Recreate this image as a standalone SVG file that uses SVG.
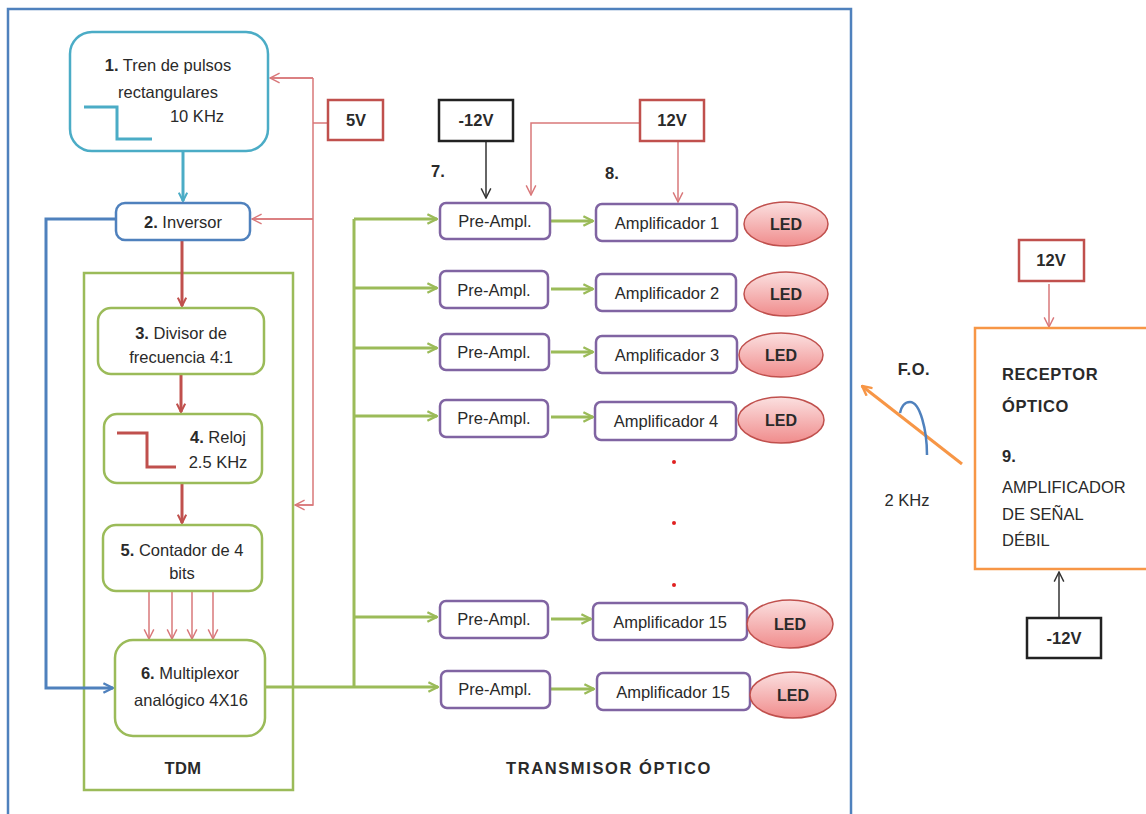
<svg xmlns="http://www.w3.org/2000/svg" width="1146" height="814" viewBox="0 0 1146 814">
<defs>
<style>
text{font-family:"Liberation Sans",Arial,sans-serif;font-size:16.5px;fill:#2a2a2a;text-anchor:middle}
.b{font-weight:bold}
.l{text-anchor:start}
.s{font-size:16px}
.pa{fill:#fff;stroke:#8064A2;stroke-width:2.5}
.gl{fill:none;stroke:#9BBB59;stroke-width:3}
.gb{fill:#fff;stroke:#9BBB59;stroke-width:2.5}
.dr{fill:none;stroke:#C0504D;stroke-width:3}
.lr{fill:none;stroke:#D9787A;stroke-width:1.5}
.led{fill:url(#ledg);stroke:#C0504D;stroke-width:1.5}
</style>
<linearGradient id="ledg" x1="0" y1="0" x2="0" y2="1">
<stop offset="0" stop-color="#FBE0E0"/><stop offset="1" stop-color="#F08C8C"/>
</linearGradient>
<marker id="ag" viewBox="0 0 10 10" refX="9" refY="5" markerWidth="4" markerHeight="4" orient="auto"><path d="M1,1 L9,5 L1,9" fill="none" stroke="#9BBB59" stroke-width="2"/></marker>
<marker id="ar" viewBox="0 0 10 10" refX="9" refY="5" markerWidth="3.5" markerHeight="3.5" orient="auto"><path d="M1,1 L9,5 L1,9" fill="none" stroke="#C0504D" stroke-width="2"/></marker>
<marker id="alr" viewBox="0 0 10 10" refX="9" refY="5" markerWidth="8" markerHeight="8" orient="auto"><path d="M1,1 L9,5 L1,9" fill="none" stroke="#D9787A" stroke-width="1.2"/></marker>
<marker id="ab" viewBox="0 0 10 10" refX="9" refY="5" markerWidth="8" markerHeight="8" orient="auto"><path d="M1,1 L9,5 L1,9" fill="none" stroke="#333" stroke-width="1.2"/></marker>
<marker id="ac" viewBox="0 0 10 10" refX="9" refY="5" markerWidth="3.5" markerHeight="3.5" orient="auto"><path d="M1,1 L9,5 L1,9" fill="none" stroke="#4BACC6" stroke-width="2"/></marker>
<marker id="abl" viewBox="0 0 10 10" refX="9" refY="5" markerWidth="4" markerHeight="4" orient="auto"><path d="M1,1 L9,5 L1,9" fill="none" stroke="#4F81BD" stroke-width="2"/></marker>
<marker id="ao" viewBox="0 0 10 10" refX="9" refY="5" markerWidth="4" markerHeight="4" orient="auto"><path d="M1,1 L9,5 L1,9" fill="none" stroke="#F79646" stroke-width="2"/></marker>
</defs>
<rect width="1146" height="814" fill="#fff"/>
<rect id="transmisor" x="8" y="9" width="843" height="820" fill="none" stroke="#4F81BD" stroke-width="2.5"/>

<g id="tdm"><rect x="84" y="273" width="209" height="517" fill="none" stroke="#9BBB59" stroke-width="2.5"/><text class="b" x="183" y="774" font-size="19" letter-spacing="0.5">TDM</text></g>

<g id="connectors">
<path d="M183,152 V201" fill="none" stroke="#4BACC6" stroke-width="3" marker-end="url(#ac)"/>
<path d="M116,219 H46 V688 H113" fill="none" stroke="#4F81BD" stroke-width="3" marker-end="url(#abl)"/>
<path d="M328,123 H313 M313,78 V505 H295 M313,78 H270 M313,219 H252" class="lr"/>
<path d="M313,78 H270" class="lr" marker-end="url(#alr)"/>
<path d="M313,219 H252" class="lr" marker-end="url(#alr)"/>
<path d="M313,505 H295" class="lr" marker-end="url(#alr)"/>
<path d="M182,240 V306" class="dr" marker-end="url(#ar)"/>
<path d="M181,375 V412" class="dr" marker-end="url(#ar)"/>
<path d="M182,483 V523" class="dr" marker-end="url(#ar)"/>
<path d="M149,592 V639" class="lr" marker-end="url(#alr)"/>
<path d="M172,592 V639" class="lr" marker-end="url(#alr)"/>
<path d="M192,592 V639" class="lr" marker-end="url(#alr)"/>
<path d="M213,592 V639" class="lr" marker-end="url(#alr)"/>
<path d="M265,687 H354 M354,219 V687" class="gl"/>
<path d="M354,219 H437" class="gl" marker-end="url(#ag)"/>
<path d="M354,288 H437" class="gl" marker-end="url(#ag)"/>
<path d="M354,348 H437" class="gl" marker-end="url(#ag)"/>
<path d="M354,416 H437" class="gl" marker-end="url(#ag)"/>
<path d="M354,617 H437" class="gl" marker-end="url(#ag)"/>
<path d="M354,687 H438" class="gl" marker-end="url(#ag)"/>
<path d="M551,221 H593" class="gl" marker-end="url(#ag)"/>
<path d="M551,289 H593" class="gl" marker-end="url(#ag)"/>
<path d="M551,352 H593" class="gl" marker-end="url(#ag)"/>
<path d="M551,417 H593" class="gl" marker-end="url(#ag)"/>
<path d="M551,619 H591" class="gl" marker-end="url(#ag)"/>
<path d="M551,689 H594" class="gl" marker-end="url(#ag)"/>
<path d="M486,141 V198" fill="none" stroke="#333" stroke-width="1.5" marker-end="url(#ab)"/>
<path d="M640,123 H531 V195" class="lr" marker-end="url(#alr)"/>
<path d="M678,141 V202" class="lr" marker-end="url(#alr)"/>
<path d="M1049,284 V327" class="lr" marker-end="url(#alr)"/>
<path d="M1059,618 V572" fill="none" stroke="#333" stroke-width="1.5" marker-end="url(#ab)"/>
<path d="M962,464 L862,386" fill="none" stroke="#F79646" stroke-width="3" marker-end="url(#ao)"/>
<path d="M927,455 C927,430 920,402 910,402 C904,402 901,408 900,413" fill="none" stroke="#4F81BD" stroke-width="2.5"/>
</g>

<g id="n1"><rect x="70" y="32" width="198" height="119" rx="22" fill="#fff" stroke="#4BACC6" stroke-width="2.5"/>
<text x="168" y="71"><tspan class="b">1.</tspan> Tren de pulsos</text>
<text x="168" y="98">rectangulares</text>
<text x="197" y="122">10 KHz</text>
<path d="M84,107 H117 V139 H152" fill="none" stroke="#4BACC6" stroke-width="3"/></g>

<g id="v5"><rect x="328" y="100" width="55" height="40" fill="#fff" stroke="#C0504D" stroke-width="2.5"/><text class="b" x="356" y="126">5V</text></g>

<g id="n2"><rect x="116" y="203" width="134" height="37" rx="9" fill="#fff" stroke="#4F81BD" stroke-width="2.5"/><text x="183" y="228"><tspan class="b">2.</tspan> Inversor</text></g>

<g id="n3"><rect x="98" y="308" width="166" height="66" rx="13" class="gb"/><text x="181" y="339"><tspan class="b">3.</tspan> Divisor de</text><text x="181" y="363">frecuencia 4:1</text></g>

<g id="n4"><rect x="104" y="414" width="158" height="69" rx="13" class="gb"/><text x="218" y="443"><tspan class="b">4.</tspan> Reloj</text><text x="218" y="468">2.5 KHz</text>
<path d="M117,433 H147 V467 H176" fill="none" stroke="#C0504D" stroke-width="3"/></g>

<g id="n5"><rect x="103" y="525" width="159" height="66" rx="13" class="gb"/><text x="182" y="556"><tspan class="b">5.</tspan> Contador de 4</text><text x="182" y="579">bits</text></g>

<g id="n6"><rect x="115" y="640" width="150" height="96" rx="18" class="gb"/><text x="190" y="679"><tspan class="b">6.</tspan> Multiplexor</text><text x="191" y="706">analógico 4X16</text></g>

<g id="vm12"><rect x="439" y="100" width="74" height="41" fill="#fff" stroke="#222" stroke-width="2.5"/><text class="b" x="476" y="126">-12V</text></g>
<g id="v12"><rect x="640" y="100" width="64" height="41" fill="#fff" stroke="#C0504D" stroke-width="2.5"/><text class="b" x="672" y="126">12V</text></g>
<text class="b" x="438" y="177">7.</text>
<text class="b" x="612" y="179">8.</text>

<g id="row1"><rect x="440" y="203" width="110" height="36" rx="6" class="pa"/><text x="495" y="227">Pre-Ampl.</text>
<rect x="596" y="204" width="141" height="37" rx="6" class="pa"/><text x="667" y="229">Amplificador 1</text>
<ellipse cx="786" cy="224" rx="42" ry="22" class="led"/><text class="b s" x="786" y="230">LED</text></g>
<g id="row2"><rect x="440" y="271" width="108" height="37" rx="6" class="pa"/><text x="494" y="296">Pre-Ampl.</text>
<rect x="596" y="274" width="140" height="37" rx="6" class="pa"/><text x="667" y="299">Amplificador 2</text>
<ellipse cx="786" cy="294" rx="42" ry="22" class="led"/><text class="b s" x="786" y="300">LED</text></g>
<g id="row3"><rect x="440" y="334" width="109" height="36" rx="6" class="pa"/><text x="494" y="358">Pre-Ampl.</text>
<rect x="596" y="336" width="141" height="37" rx="6" class="pa"/><text x="667" y="361">Amplificador 3</text>
<ellipse cx="781" cy="355" rx="42" ry="22" class="led"/><text class="b s" x="781" y="361">LED</text></g>
<g id="row4"><rect x="440" y="400" width="108" height="37" rx="6" class="pa"/><text x="494" y="424">Pre-Ampl.</text>
<rect x="595" y="402" width="141" height="38" rx="6" class="pa"/><text x="666" y="427">Amplificador 4</text>
<ellipse cx="781" cy="420" rx="43" ry="23" class="led"/><text class="b s" x="781" y="426">LED</text></g>
<g id="dots" fill="#E02020"><circle cx="674" cy="462" r="2"/><circle cx="674" cy="523" r="2"/><circle cx="674" cy="585" r="2"/></g>
<g id="row15a"><rect x="440" y="601" width="108" height="37" rx="6" class="pa"/><text x="494" y="625">Pre-Ampl.</text>
<rect x="593" y="603" width="154" height="37" rx="6" class="pa"/><text x="670" y="628">Amplificador 15</text>
<ellipse cx="790" cy="624" rx="43" ry="24" class="led"/><text class="b s" x="790" y="630">LED</text></g>
<g id="row15b"><rect x="441" y="671" width="109" height="37" rx="6" class="pa"/><text x="495" y="695">Pre-Ampl.</text>
<rect x="597" y="673" width="153" height="37" rx="6" class="pa"/><text x="673" y="698">Amplificador 15</text>
<ellipse cx="793" cy="695" rx="43" ry="23" class="led"/><text class="b s" x="793" y="701">LED</text></g>
<text class="b" x="609" y="774" font-size="19" letter-spacing="1.6">TRANSMISOR ÓPTICO</text>

<g id="rv12"><rect x="1019" y="240" width="65" height="41" fill="#fff" stroke="#C0504D" stroke-width="2.5"/><text class="b" x="1051" y="266">12V</text></g>
<g id="receptor"><rect x="975" y="328" width="190" height="241" fill="#fff" stroke="#F79646" stroke-width="2.5"/>
<text class="b l" x="1002" y="380" font-size="19" letter-spacing="0.6">RECEPTOR</text>
<text class="b l" x="1002" y="412" font-size="19" letter-spacing="0.6">ÓPTICO</text>
<text class="b l" x="1002" y="462" font-size="19">9.</text>
<text class="l" x="1002" y="493">AMPLIFICADOR</text>
<text class="l" x="1002" y="520">DE SEÑAL</text>
<text class="l" x="1002" y="546">DÉBIL</text></g>
<g id="rvm12"><rect x="1027" y="618" width="74" height="40" fill="#fff" stroke="#222" stroke-width="2.5"/><text class="b" x="1064" y="644">-12V</text></g>
<text class="b" x="914" y="375" font-size="19" letter-spacing="0.5">F.O.</text>
<text x="907" y="506">2 KHz</text>
</svg>
